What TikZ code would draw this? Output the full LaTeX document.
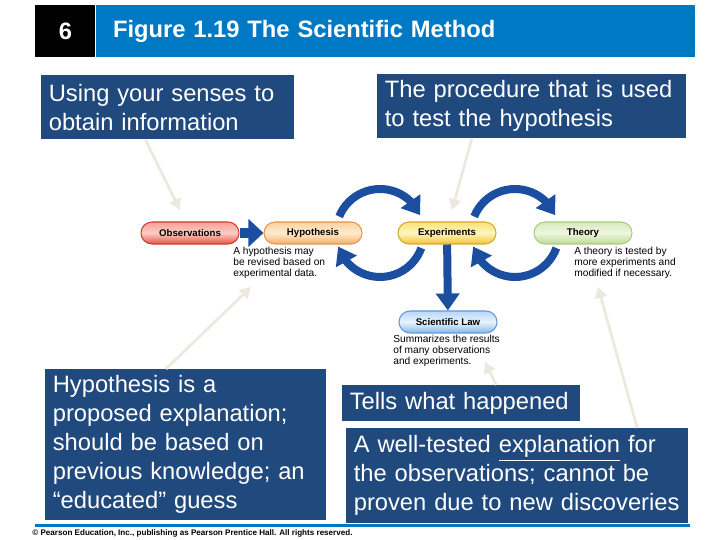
\documentclass[tikz,border=0pt]{standalone}
\usepackage{fontspec}
\setmainfont{Liberation Sans}
\usepackage{tikz}
\usetikzlibrary{arrows.meta, bending, positioning, calc}
\definecolor{hdrblue}{RGB}{0,121,196}
\definecolor{boxblue}{RGB}{32,73,126}
\definecolor{arcblue}{RGB}{28,78,160}
\definecolor{paleline}{RGB}{236,233,222}
\definecolor{obstop}{RGB}{250,160,150}
\definecolor{obsmid}{RGB}{252,205,195}
\definecolor{obsbot}{RGB}{232,85,70}
\definecolor{obsline}{RGB}{205,60,50}
\definecolor{hyptop}{RGB}{252,210,160}
\definecolor{hypmid}{RGB}{255,235,205}
\definecolor{hypbot}{RGB}{246,175,105}
\definecolor{hypline}{RGB}{228,150,80}
\definecolor{exptop}{RGB}{252,225,120}
\definecolor{expmid}{RGB}{255,246,190}
\definecolor{expbot}{RGB}{244,195,55}
\definecolor{expline}{RGB}{215,170,40}
\definecolor{thytop}{RGB}{215,235,190}
\definecolor{thymid}{RGB}{238,246,222}
\definecolor{thybot}{RGB}{190,218,150}
\definecolor{thyline}{RGB}{172,202,130}
\definecolor{lawtop}{RGB}{185,215,245}
\definecolor{lawmid}{RGB}{232,243,255}
\definecolor{lawbot}{RGB}{130,185,235}
\definecolor{lawline}{RGB}{95,155,220}
\tikzset{
  infobox/.style={rectangle, fill=boxblue, text=white, anchor=north west, align=left,
    inner xsep=0.15cm, inner ysep=0pt, font=\fontsize{13.5}{16.5}\selectfont},
  pill/.style={rectangle, rounded corners=0.22cm, minimum width=1.96cm, minimum height=0.44cm,
    inner sep=0pt, line width=0.6pt, font=\fontsize{5.5}{6.5}\selectfont\bfseries},
  note/.style={anchor=north west, align=left, inner sep=0pt, font=\fontsize{5.8}{6.3}\selectfont},
  flow/.style={line width=0.16cm, color=arcblue, -{Triangle[length=0.34cm, width=0.46cm]}},
  pointer/.style={line width=1.6pt, color=paleline, -{Triangle[length=0.22cm, width=0.24cm]}}
}
\begin{document}
\begin{tikzpicture}[x=0.02cm, y=0.02cm]
\useasboundingbox[fill=white] (0,0) rectangle (720,540);

\node[fill=black, anchor=north west, minimum width=1.2cm, minimum height=1.04cm, inner sep=0pt,
  text=white, font=\fontsize{13.5}{16}\selectfont\bfseries] (num) at (35,535) {6};
\node[fill=hdrblue, anchor=west, minimum height=1.04cm, inner xsep=0.34cm, inner ysep=0pt,
  text width=11.3cm, align=left, text=white, font=\fontsize{13.5}{16}\selectfont\bfseries]
  (title) at (num.east) {Figure 1.19 The Scientific Method};

\foreach \nm/\lbl/\x/\y/\c in {obs/Observations/190/307/obs, hyp/Hypothesis/313/307/hyp,
    exp/Experiments/447/307/exp, theory/Theory/583/307/thy, law/Scientific Law/448/218/law} {
  \node[pill, draw=\c line, top color=\c top, bottom color=\c bot, middle color=\c mid] (\nm) at (\x,\y) {\lbl};
}

\draw[flow, line width=0.2cm, -{Triangle[length=0.3cm, width=0.54cm]}] (obs) -- (hyp);
\draw[flow] (exp) -- (law);
\coordinate (he) at ($(hyp)!0.5!(exp)$);
\coordinate (et) at ($(exp)!0.5!(theory)$);
\foreach \c in {he, et} {
  \draw[flow] ([shift={(158:0.88cm)}]\c) arc[start angle=158, end angle=24, radius=0.88cm];
  \draw[flow] ([shift={(-20:0.88cm)}]\c) arc[start angle=-20, end angle=-162, radius=0.88cm];
}

\node[note] (hypnote) at (233,293) {A hypothesis may\\be revised based on\\experimental data.};
\node[note] (thynote) at (574,293) {A theory is tested by\\more experiments and\\modified if necessary.};
\node[note] (lawnote) at (393,205) {Summarizes the results\\of many observations\\and experiments.};

\node[infobox, text width=4.76cm, minimum height=1.28cm] (senses) at (41,465)
  {Using your senses to\\obtain information};
\node[infobox, text width=5.88cm, minimum height=1.28cm] (procedure) at (377,466)
  {The procedure that is used\\to test the hypothesis};
\node[infobox, text width=5.32cm, minimum height=3.02cm] (guess) at (45,171)
  {Hypothesis is a\\proposed explanation;\\should be based on\\previous knowledge; an\\“educated” guess};
\node[infobox, text width=4.46cm, minimum height=0.72cm] (happened) at (342,155)
  {Tells what happened};
\node[infobox, text width=6.54cm, minimum height=1.9cm] (welltested) at (346,112)
  {A well-tested \underline{explanation} for\\the observations; cannot be\\proven due to new discoveries};

\coordinate (p1) at (180,330);
\coordinate (p2) at (452,330);
\coordinate (p3) at (251,253);
\coordinate (p4) at (485,178);
\coordinate (p5) at (598,253);
\draw[pointer] ([xshift=-0.45cm]senses.south) -- (p1);
\draw[pointer] ([xshift=-1.2cm]procedure.south) -- (p2);
\draw[pointer] ([xshift=-0.4cm]guess.north) -- (p3);
\draw[pointer] ([xshift=0.7cm]happened.north) -- (p4);
\draw[pointer] ([xshift=2.4cm]welltested.north) -- (p5);

\draw[hdrblue, line width=1.7pt] (35,14.5) -- (690,14.5);
\node[anchor=west, inner sep=0pt, font=\fontsize{4.6}{5.5}\selectfont\bfseries] (copy) at (32,6.5)
  {© Pearson Education, Inc., publishing as Pearson Prentice Hall. All rights reserved.};
\end{tikzpicture}
\end{document}
